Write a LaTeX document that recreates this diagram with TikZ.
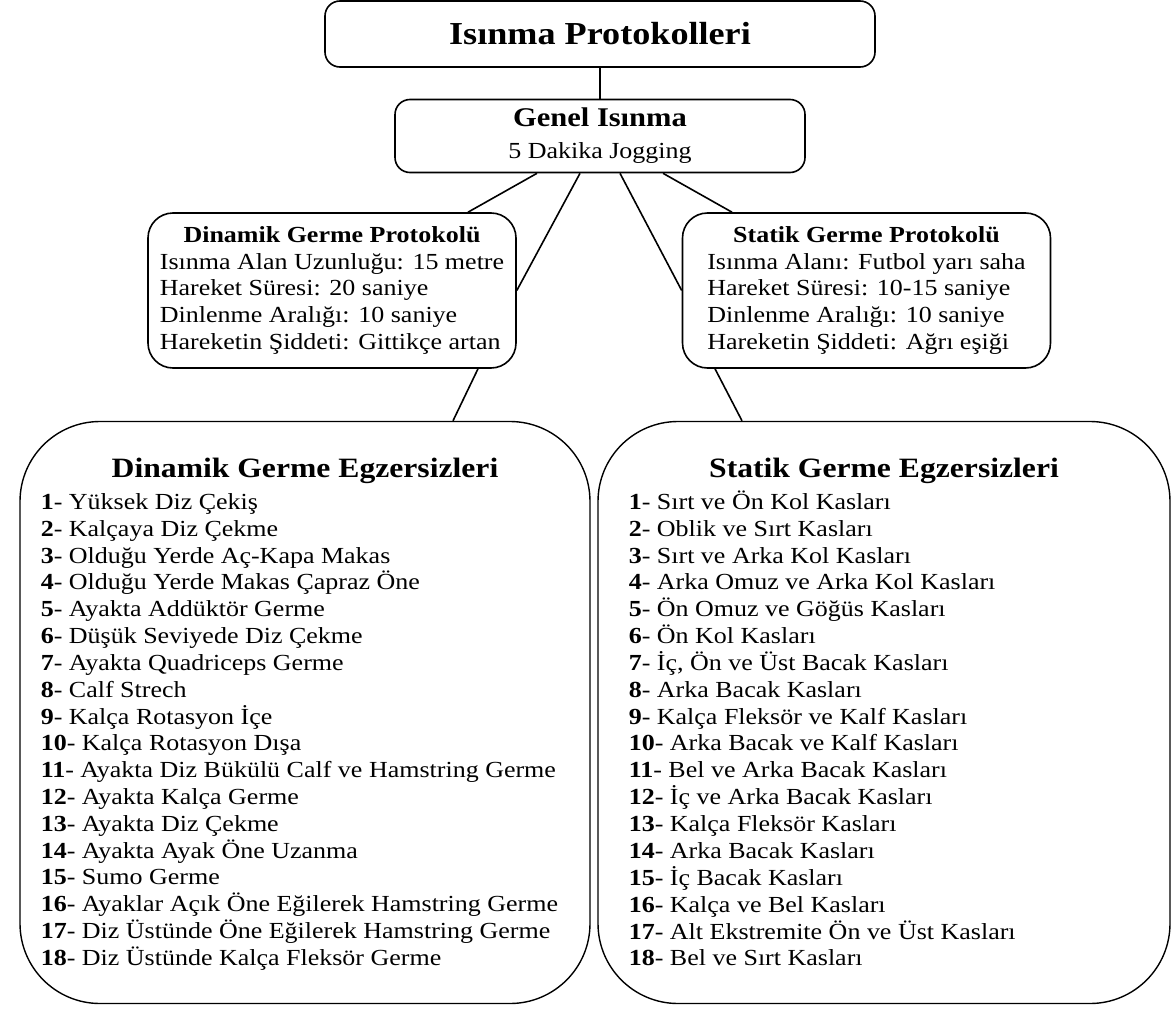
\documentclass[tikz,border=0pt]{standalone}
\usepackage{fontspec}
\setmainfont{Liberation Serif}[FakeStretch=1.13]
\newcommand{\govde}{\fontsize{23}{26.8}\selectfont}
\newcommand{\madde}[1]{\textbf{#1}-~}
\begin{document}
\begin{tikzpicture}[x=1pt, y=-1pt, line width=1.6pt,
  kutu/.style={draw,rounded corners=15pt,inner sep=0pt,align=center},
  protkutu/.style={draw,rounded corners=25pt,inner sep=0pt,minimum width=368pt,minimum height=155pt},
  egzkutu/.style={draw,line width=1.4pt,rounded corners=80pt,inner sep=0pt,minimum height=582pt},
  liste/.style={anchor=north west,inner sep=0pt,font=\govde}]
\useasboundingbox (0,0) rectangle (1176,1009);
\node[kutu,minimum width=550pt,minimum height=66pt,font=\fontsize{32}{38}\selectfont\bfseries] (baslik) at (600,34) {Isınma Protokolleri};
\node[kutu,minimum width=410pt,minimum height=73pt] (genel) at (600,136) {\fontsize{27}{32}\selectfont\begin{tabular}{@{}c@{}}\bfseries Genel Isınma\\ \govde 5 Dakika Jogging\end{tabular}};
\draw (baslik) -- (genel);
% protokoller
\node[protkutu] (dinProt) at (332,290.5) {\govde\begin{tabular}{@{}l@{}}\multicolumn{1}{@{}c@{}}{\bfseries Dinamik Germe Protokolü}\\
 Isınma Alan Uzunluğu: 15 metre\\ Hareket Süresi: 20 saniye\\ Dinlenme Aralığı: 10 saniye\\ Hareketin Şiddeti: Gittikçe artan\end{tabular}};
\node[protkutu] (statProt) at (866.5,290.5) {\govde\begin{tabular}{@{}l@{}}\multicolumn{1}{@{}c@{}}{\bfseries Statik Germe Protokolü}\\
 Isınma Alanı: Futbol yarı saha\\ Hareket Süresi: 10-15 saniye\\ Dinlenme Aralığı: 10 saniye\\ Hareketin Şiddeti: Ağrı eşiği\end{tabular}};
\draw ([xshift=-63pt]genel.south) -- ([xshift=136pt]dinProt.north);
\draw ([xshift=-20pt]genel.south) -- (dinProt.east);
\draw ([xshift=20pt]genel.south) -- (statProt.west);
\draw ([xshift=63pt]genel.south) -- ([xshift=-134.5pt]statProt.north);
% egzersiz kutulari
\node[egzkutu,minimum width=570pt] (dinEgz) at (305,712.5) {};
\node[egzkutu,minimum width=572pt] (statEgz) at (884,712.5) {};
\draw ([xshift=146pt]dinProt.south) -- ([xshift=148pt]dinEgz.north);
\draw ([xshift=-151.5pt]statProt.south) -- ([xshift=-142pt]statEgz.north);
\node[font=\fontsize{28}{32}\selectfont\bfseries] (dinBaslik) at (dinEgz.center |- 0,471) {Dinamik Germe Egzersizleri};
\node[font=\fontsize{28}{32}\selectfont\bfseries] (statBaslik) at (statEgz.center |- 0,471) {Statik Germe Egzersizleri};
\node[liste] (dinListe) at (40,490) {\begin{tabular}{@{}l@{}}
\madde{1}Yüksek Diz Çekiş\\ \madde{2}Kalçaya Diz Çekme\\ \madde{3}Olduğu Yerde Aç-Kapa Makas\\
\madde{4}Olduğu Yerde Makas Çapraz Öne\\ \madde{5}Ayakta Addüktör Germe\\ \madde{6}Düşük Seviyede Diz Çekme\\
\madde{7}Ayakta Quadriceps Germe\\ \madde{8}Calf Strech\\ \madde{9}Kalça Rotasyon İçe\\
\madde{10}Kalça Rotasyon Dışa\\ \madde{11}Ayakta Diz Bükülü Calf ve Hamstring Germe\\ \madde{12}Ayakta Kalça Germe\\
\madde{13}Ayakta Diz Çekme\\ \madde{14}Ayakta Ayak Öne Uzanma\\ \madde{15}Sumo Germe\\
\madde{16}Ayaklar Açık Öne Eğilerek Hamstring Germe\\ \madde{17}Diz Üstünde Öne Eğilerek Hamstring Germe\\ \madde{18}Diz Üstünde Kalça Fleksör Germe
\end{tabular}};
\node[liste] (statListe) at (628,490) {\begin{tabular}{@{}l@{}}
\madde{1}Sırt ve Ön Kol Kasları\\ \madde{2}Oblik ve Sırt Kasları\\ \madde{3}Sırt ve Arka Kol Kasları\\
\madde{4}Arka Omuz ve Arka Kol Kasları\\ \madde{5}Ön Omuz ve Göğüs Kasları\\ \madde{6}Ön Kol Kasları\\
\madde{7}İç, Ön ve Üst Bacak Kasları\\ \madde{8}Arka Bacak Kasları\\ \madde{9}Kalça Fleksör ve Kalf Kasları\\
\madde{10}Arka Bacak ve Kalf Kasları\\ \madde{11}Bel ve Arka Bacak Kasları\\ \madde{12}İç ve Arka Bacak Kasları\\
\madde{13}Kalça Fleksör Kasları\\ \madde{14}Arka Bacak Kasları\\ \madde{15}İç Bacak Kasları\\
\madde{16}Kalça ve Bel Kasları\\ \madde{17}Alt Ekstremite Ön ve Üst Kasları\\ \madde{18}Bel ve Sırt Kasları
\end{tabular}};
\end{tikzpicture}
\end{document}
